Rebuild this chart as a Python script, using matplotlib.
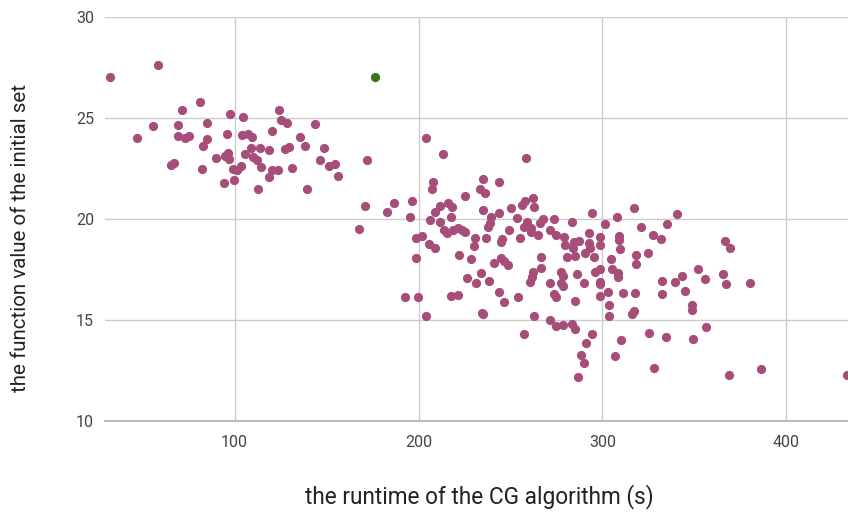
import matplotlib
matplotlib.use('Agg')
from matplotlib import pyplot as plt

# Tempo de execucao do algoritmo CG (s) e valor da funcao do conjunto inicial
runtimes = [
    # grupo da esquerda
    32.1, 58.3, 81.0, 71.2, 97.3, 104.3, 123.9, 125.4, 128.4, 143.6, 55.6, 47.1,
    69.2, 69.0, 72.8, 75.2, 84.9, 84.8, 82.8, 95.7, 103.8, 107.2, 109.4, 120.1,
    109.1, 114.0, 118.6, 127.5, 129.7, 135.5, 138.2, 148.4, 105.6, 94.6, 96.6, 96.7,
    89.7, 110.0, 112.0, 114.5, 120.1, 123.7, 118.5, 131.3, 146.6, 151.1, 154.3, 156.0,
    65.2, 67.2, 82.2, 99.1, 101.3, 103.3, 94.0, 99.5, 112.9, 139.3, 171.9, 170.7,
    167.6,
    # grupo do meio
    204.0, 213.4, 258.2, 235.2, 244.0, 207.8, 207.4, 233.5, 236.2, 225.4, 262.1, 258.0,
    256.3, 263.0, 186.4, 196.7, 182.6, 195.1, 211.9, 216.1, 218.1, 209.2, 206.4, 211.9,
    217.4, 234.8, 239.5, 238.6, 237.7, 244.0, 250.2, 253.6, 259.1, 257.2, 260.9, 265.8,
    267.8, 273.9, 283.3, 294.2, 261.4, 265.2, 271.6, 274.8, 279.2, 279.5, 284.4, 287.1,
    283.9, 292.9, 292.9, 290.6, 295.3, 285.3, 280.8, 285.9, 290.2, 296.0, 214.1, 215.4,
    218.7, 221.4, 223.5, 225.4, 198.5, 201.8, 205.6, 208.7, 198.4, 230.8, 230.4, 236.4,
    249.1, 254.9, 245.3, 244.7, 221.9, 228.6, 240.8, 244.7, 246.7, 248.7, 266.3, 266.8,
    262.1, 261.6, 260.7, 277.5, 278.4, 271.4, 277.7, 278.8, 273.5, 274.8, 285.2, 234.0,
    226.6, 231.1, 238.2, 244.0, 254.2, 192.4, 199.6, 217.8, 221.6,
    203.8, 234.4, 235.3, 246.7, 262.5, 257.2, 271.7, 274.8, 278.8, 283.3, 285.2, 294.4,
    291.3, 288.4, 290.2, 286.6, 298.4,
    # grupo da direita
    307.8, 317.4, 340.4, 301.6, 320.7, 334.9, 327.3, 331.7, 298.7, 308.9, 309.2, 293.3,
    298.4, 309.6, 318.3, 325.0, 318.1, 304.7, 305.3, 308.7, 308.7, 298.9, 298.7, 298.7,
    302.9, 311.0, 317.8, 303.8, 303.6, 316.3, 317.0, 332.6, 332.4, 339.7, 343.1, 344.7,
    352.2, 356.0, 365.8, 367.4, 380.1, 366.8, 369.2, 348.9, 348.7, 356.5, 349.3, 334.8,
    325.5, 309.9, 306.9, 328.1, 368.6, 386.0, 433.0,
]
values = [
    27.03, 27.61, 25.81, 25.38, 25.20, 25.03, 25.38, 24.90, 24.74, 24.70, 24.60, 24.02,
    24.65, 24.12, 24.02, 24.12, 24.77, 23.98, 23.60, 24.22, 24.14, 24.19, 24.04, 24.37,
    23.53, 23.53, 23.40, 23.45, 23.55, 24.07, 23.60, 23.53, 23.23, 23.12, 23.25, 22.96,
    23.00, 23.08, 22.92, 22.56, 22.43, 22.41, 22.08, 22.51, 22.90, 22.62, 22.74, 22.14,
    22.67, 22.76, 22.49, 22.46, 22.43, 22.62, 21.80, 21.93, 21.49, 21.49, 22.94, 20.63,
    19.49,
    23.99, 23.22, 23.02, 21.98, 21.83, 21.82, 21.47, 21.49, 21.29, 21.14, 21.02, 20.91,
    20.69, 20.61, 20.81, 20.88, 20.36, 20.11, 20.64, 20.81, 20.61, 20.36, 19.95, 19.84,
    20.08, 20.45, 20.08, 19.79, 19.62, 20.28, 20.54, 20.03, 19.85, 19.62, 19.54, 19.79,
    20.01, 20.00, 19.84, 20.31, 19.37, 19.19, 19.46, 19.19, 19.09, 18.71, 18.88, 18.91,
    18.55, 19.29, 18.80, 18.30, 18.13, 18.18, 18.10, 17.29, 16.82, 17.39, 19.46, 19.29,
    19.46, 19.57, 19.46, 19.34, 19.04, 19.16, 18.75, 18.58, 18.05, 19.07, 18.66, 19.04,
    19.46, 19.07, 18.99, 18.84, 18.22, 18.04, 17.82, 18.05, 17.94, 17.72, 18.10, 17.56,
    17.39, 17.15, 16.90, 17.39, 17.19, 16.82, 16.82, 16.68, 16.27, 16.15, 15.94, 17.31,
    17.09, 16.85, 16.93, 16.37, 16.15, 16.15, 16.15, 16.20, 16.24,
    15.20, 15.36, 15.28, 15.88, 15.21, 14.31, 15.00, 14.70, 14.75, 14.79, 14.55, 14.29,
    13.85, 13.27, 12.86, 12.19, 16.20,
    20.11, 20.56, 20.25, 19.74, 19.59, 19.77, 19.21, 19.03, 19.12, 19.16, 18.96, 18.58,
    18.71, 18.50, 18.20, 18.30, 17.76, 18.00, 17.51, 17.31, 17.11, 17.52, 16.90, 16.77,
    16.40, 16.32, 16.32, 15.73, 15.20, 15.30, 15.45, 16.92, 16.27, 16.88, 17.16, 16.42,
    17.51, 17.01, 17.26, 16.80, 16.83, 18.90, 18.58, 15.76, 15.50, 14.65, 14.06, 14.17,
    14.37, 13.99, 13.22, 12.61, 12.26, 12.56, 12.26,
]

# ponto destacado em verde
highlight_runtime = [176.1]
highlight_value = [27.03]

x_ticks = [100, 200, 300, 400]
y_ticks = [10, 15, 20, 25, 30]

plt.rcParams['font.family'] = ['Roboto', 'DejaVu Sans']

fig = plt.figure(figsize=(8.48, 5.13), dpi=100)
ax = fig.add_axes([105 / 848, 92 / 513, 743 / 848, 404 / 513])

ax.scatter(runtimes, values, s=44, c='#a64d79', linewidths=0, zorder=3)
ax.scatter(highlight_runtime, highlight_value, s=44, c='#38761d', linewidths=0, zorder=3)

ax.set_xlim(29.5, 433.5)
ax.set_ylim(10, 30)
ax.set_xticks(x_ticks)
ax.set_yticks(y_ticks)

# grade cinza clara, sem bordas
ax.grid(color='#cccccc', linewidth=1)
ax.set_axisbelow(True)
for side in ax.spines.values():
    side.set_visible(False)
ax.axhline(10, color='#bbbbbb', linewidth=1.5, clip_on=False, zorder=1)

ax.tick_params(axis='both', length=0, labelsize=11.5, labelcolor='#444444')
ax.tick_params(axis='y', pad=8)
ax.tick_params(axis='x', pad=10)

fig.text(21 / 848, 1 - 238 / 513, 'the function value of the initial set',
         rotation=90, ha='center', va='center', fontsize=14.8, color='#222222')
fig.text(479 / 848, 1 - 497 / 513, 'the runtime of the CG algorithm (s)',
         ha='center', va='center', fontsize=16.3, color='#222222')

plt.savefig('out.png', dpi=100)
